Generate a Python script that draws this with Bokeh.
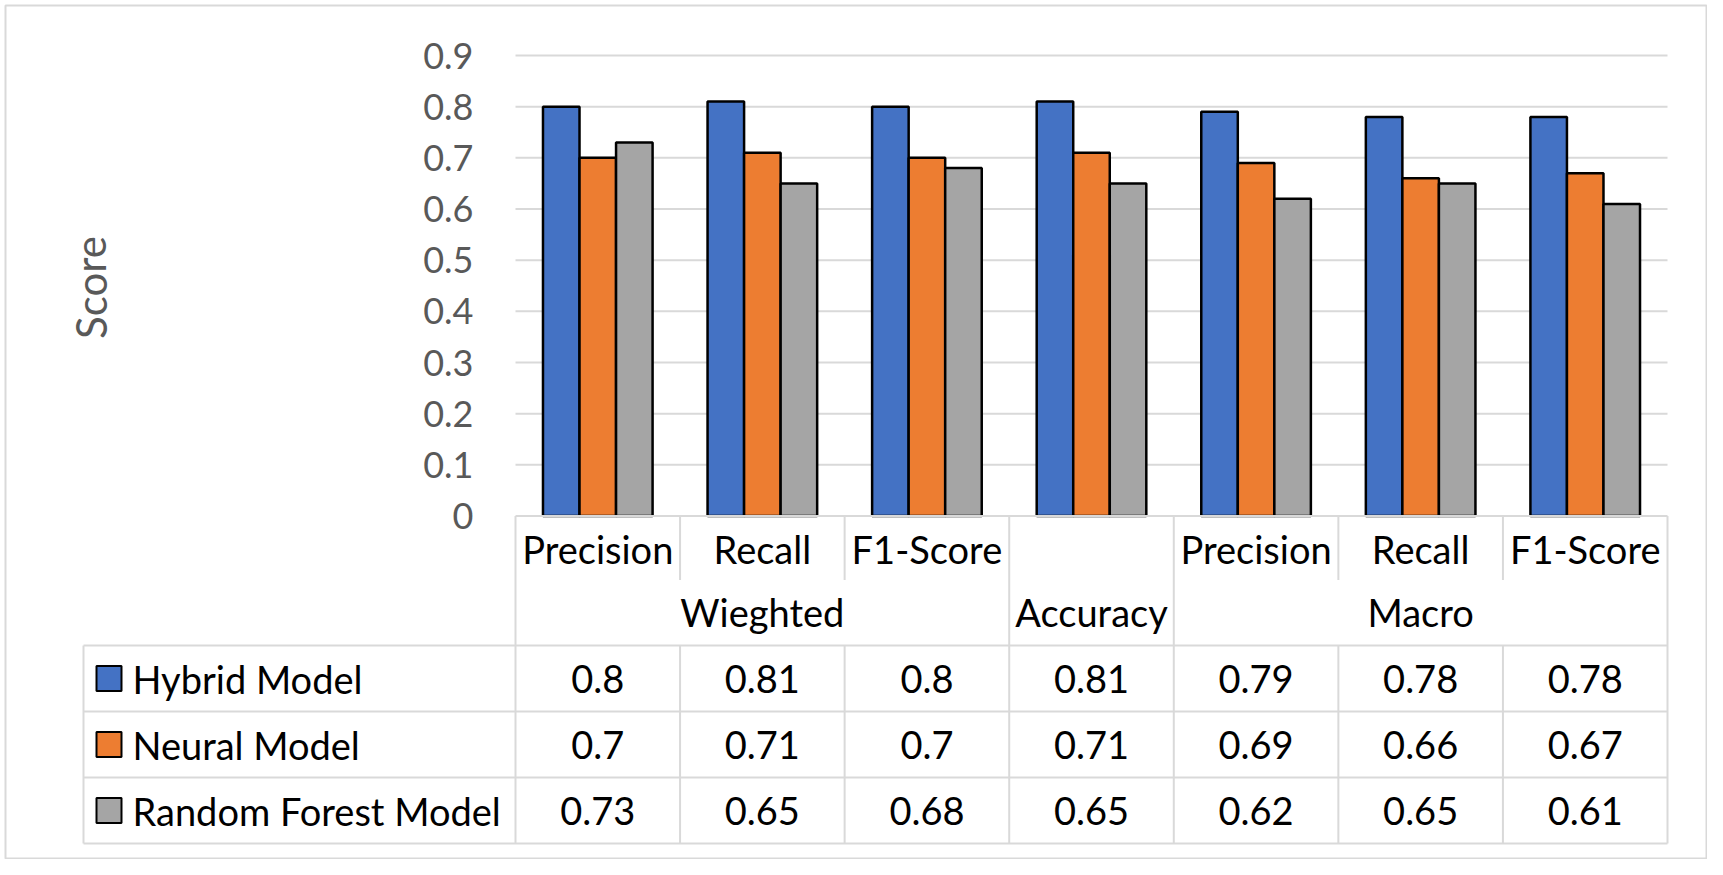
from bokeh.plotting import figure
from bokeh.models import Range1d
from bokeh.core.properties import value
from bokeh.embed import file_html
from bokeh.resources import INLINE

# ---------------- data ----------------
columns = ["W-Precision", "W-Recall", "W-F1", "Accuracy", "M-Precision", "M-Recall", "M-F1"]
sub_labels = ["Precision", "Recall", "F1-Score", "", "Precision", "Recall", "F1-Score"]
group_names = ["Wieghted", "Accuracy", "Macro"]
group_spans = [(0, 3), (3, 4), (4, 7)]
series = ["Hybrid Model", "Neural Model", "Random Forest Model"]
hybrid = [0.80, 0.81, 0.80, 0.81, 0.79, 0.78, 0.78]
neural = [0.70, 0.71, 0.70, 0.71, 0.69, 0.66, 0.67]
forest = [0.73, 0.65, 0.68, 0.65, 0.62, 0.65, 0.61]
y_ticks = [0, 0.1, 0.2, 0.3, 0.4, 0.5, 0.6, 0.7, 0.8, 0.9]
y_tick_labels = ["0", "0.1", "0.2", "0.3", "0.4", "0.5", "0.6", "0.7", "0.8", "0.9"]
y_title = "Score"
colors = ["#4472C4", "#ED7D31", "#A5A5A5"]

FONT = value("Lato")
W, H = 1707, 859
# layout in picture px
LEFT, RIGHT = 515.0, 1667.0        # plot area
TOP_Y, BASE_Y = 55.0, 515.5         # y of 0.9 and of 0
n = len(columns)
UNIT = (RIGHT - LEFT) / n           # px per category
PPV = (BASE_Y - TOP_Y) / 0.9        # px per score unit
FR_L, FR_T, FR_R, FR_B = 5.0, 5.0, 1706.0, 858.0   # frame (outer border)

def ux(px):  # picture x -> category units
    return (px - LEFT) / UNIT

p = figure(width=W, height=H, output_backend="svg", toolbar_location=None,
           x_range=Range1d(ux(FR_L), ux(FR_R)),
           y_range=Range1d(-(FR_B - BASE_Y) / PPV, (BASE_Y - FR_T) / PPV),
           x_axis_location=None, y_axis_location=None,
           min_border_left=int(FR_L), min_border_right=int(W - FR_R),
           min_border_top=int(FR_T), min_border_bottom=int(H - FR_B))
# table rows use their own y range: px below the axis line
p.extra_y_ranges = {"tbl": Range1d(FR_B - BASE_Y, -(BASE_Y - FR_T))}
p.grid.visible = False
p.outline_line_color = "#D9D9D9"
p.outline_line_width = 2
p.background_fill_color = "white"
p.border_fill_color = "white"

# ---------------- chart ----------------
xs = [i + 0.5 for i in range(n)]
BAR_W = 0.222
p.segment(x0=[0] * len(y_ticks[1:]), x1=[n] * len(y_ticks[1:]), y0=y_ticks[1:], y1=y_ticks[1:],
          line_color="#D9D9D9", line_width=2)
for vals, off, col in zip([hybrid, neural, forest], [-BAR_W, 0, BAR_W], colors):
    p.vbar(x=[x + off for x in xs], top=vals, bottom=0, width=BAR_W,
           fill_color=col, line_color="black", line_width=2.5)

p.text(x=[ux(473)] * len(y_ticks), y=y_ticks, text=y_tick_labels, text_font=FONT,
       text_font_size="36px", text_color="#595959", text_align="right", text_baseline="middle")
p.text(x=[ux(90)], y=[(BASE_Y - 287) / PPV], text=[y_title], angle=1.5708, text_font=FONT,
       text_font_size="42px", text_color="#595959", text_align="center", text_baseline="middle")

# ---------------- data table ----------------
LEG_L = ux(83)
ROW1, HEAD, ROW_H = 64, 129.5, 66
bottom = HEAD + 3 * ROW_H
x0, y0, x1, y1 = [], [], [], []
x0 += [0]; y0 += [0]; x1 += [n]; y1 += [0]
for r in range(4):
    yy = HEAD + r * ROW_H
    x0 += [LEG_L]; y0 += [yy]; x1 += [n]; y1 += [yy]
x0 += [LEG_L]; y0 += [HEAD]; x1 += [LEG_L]; y1 += [bottom]
edges = sorted(set([a for a, b in group_spans] + [b for a, b in group_spans]))
for i in range(n + 1):
    if i in edges:
        x0 += [i]; y0 += [0]; x1 += [i]; y1 += [bottom]
    else:
        x0 += [i]; y0 += [0]; x1 += [i]; y1 += [ROW1]
        x0 += [i]; y0 += [HEAD]; x1 += [i]; y1 += [bottom]
p.segment(x0=x0, y0=y0, x1=x1, y1=y1, line_color="#D9D9D9", line_width=2, y_range_name="tbl")

TXT = dict(text_font=FONT, text_font_size="38px", text_color="black", text_baseline="middle",
           y_range_name="tbl")
p.text(x=xs, y=[33] * n, text=sub_labels, text_align="center", **TXT)
p.text(x=[(a + b) / 2 for a, b in group_spans], y=[96] * len(group_names), text=group_names,
       text_align="center", **TXT)
for r, (name, vals, col) in enumerate(zip(series, [hybrid, neural, forest], colors)):
    yc = HEAD + r * ROW_H + ROW_H / 2
    p.text(x=xs, y=[yc] * n, text=[f"{v:g}" for v in vals], text_align="center", **TXT)
    p.scatter(x=[ux(108.5)], y=[yc], marker="square", size=25, fill_color=col,
              line_color="black", line_width=2, y_range_name="tbl")
    p.text(x=[ux(132)], y=[yc], text=[name], text_align="left", **TXT)

open("out.html", "w").write(file_html(p, INLINE))
